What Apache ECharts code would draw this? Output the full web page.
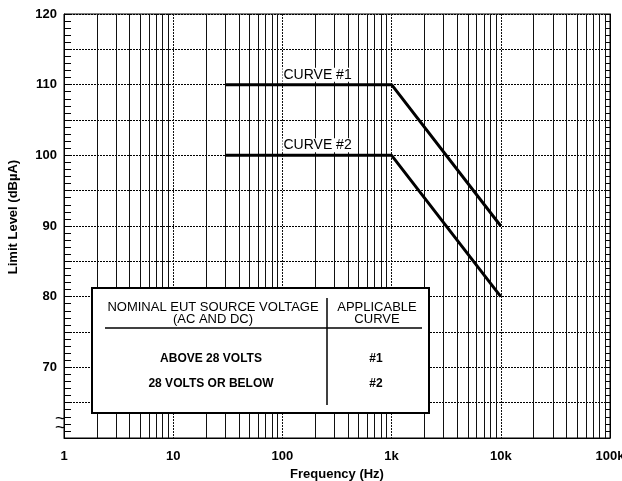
<!DOCTYPE html>
<html>
<head>
<meta charset="utf-8">
<script src="https://cdn.jsdelivr.net/npm/echarts@6/dist/echarts.min.js"></script>
<style>
  html, body { margin: 0; padding: 0; background: #fff; }
  #chart { width: 622px; height: 481px; }
</style>
</head>
<body>
<div id="chart"></div>
<script>
// limit curves (frequency in Hz, level in dBuA)
var freqs = [30, 1000, 10000];
var curve1 = [110, 110, 90];
var curve2 = [100, 100, 80];

// axis ticks
var xTicks = [1, 10, 100, 1000, 10000, 100000];
var xTickLabels = ['1', '10', '100', '1k', '10k', '100k'];
var yTickLabels = [70, 80, 90, 100, 110, 120];

// minor (2..9) log grid lines
var minorFreqs = [];
for (var d = 0; d < xTicks.length - 1; d++) {
    for (var m = 2; m <= 9; m++) {
        minorFreqs.push(m * xTicks[d]);
    }
}

// table text
var tableHead = ['NOMINAL EUT SOURCE VOLTAGE', '(AC AND DC)', 'APPLICABLE', 'CURVE'];
var tableRows = [['ABOVE 28 VOLTS', '#1'], ['28 VOLTS OR BELOW', '#2']];

var font = "'Liberation Sans', Arial, sans-serif";

var chartDom = document.getElementById('chart');
var myChart = echarts.init(chartDom, null, { renderer: 'canvas' });
var option;

function pairs(ys) {
    return freqs.map(function (f, i) { return [f, ys[i]]; });
}

function curveLabel(text, level) {
    return {
        symbol: 'rect',
        symbolSize: 1,
        itemStyle: { color: 'rgba(0,0,0,0)' },
        data: [{ coord: [210, level], value: 0 }],
        label: {
            show: true, position: 'inside', formatter: text, color: '#000',
            fontFamily: font, fontSize: 14, offset: [0, -10],
            backgroundColor: '#fff', padding: [0, 1]
        }
    };
}

option = {
    backgroundColor: '#fff',
    animation: false,
    grid: {
        left: 64, right: 12, top: 14, bottom: 43,
        show: true, borderColor: '#000', borderWidth: 1,
        outerBoundsMode: 'none'
    },
    xAxis: {
        type: 'log',
        logBase: 10,
        min: 1,
        max: 100000,
        name: 'Frequency (Hz)',
        nameLocation: 'middle',
        nameGap: 30,
        nameTextStyle: { color: '#000', fontFamily: font, fontSize: 13, fontWeight: 'bold' },
        axisLine: { lineStyle: { color: '#000', width: 1 } },
        axisTick: { show: false },
        axisLabel: {
            color: '#000', fontFamily: font, fontSize: 13, fontWeight: 'bold', margin: 12,
            formatter: function (v) {
                var i = xTicks.indexOf(Math.round(v));
                return i >= 0 ? xTickLabels[i] : '';
            }
        },
        splitLine: { show: true, lineStyle: { color: '#111', width: 1, type: [2, 1] } },
        minorTick: { show: false },
        minorSplitLine: { show: false }
    },
    yAxis: [
        {
            type: 'value',
            min: 60,
            max: 120,
            interval: 5,
            name: 'Limit Level (dBµA)',
            nameLocation: 'middle',
            nameGap: 44,
            nameTextStyle: { color: '#000', fontFamily: font, fontSize: 13, fontWeight: 'bold', padding: [0, 0, 0, 18] },
            axisLine: { show: true, lineStyle: { color: '#000', width: 1 } },
            axisTick: { show: true, inside: true, length: 7, lineStyle: { color: '#000' } },
            minorTick: { show: true, splitNumber: 5, length: 7, lineStyle: { color: '#000' } },
            axisLabel: {
                color: '#000', fontFamily: font, fontSize: 13, fontWeight: 'bold', margin: 7,
                formatter: function (v) {
                    return yTickLabels.indexOf(v) >= 0 ? String(v) : '';
                }
            },
            splitLine: { show: true, lineStyle: { color: '#000', width: 1, type: [2, 1] } }
        },
        {
            type: 'value',
            min: 60,
            max: 120,
            interval: 5,
            position: 'right',
            axisLine: { show: true, lineStyle: { color: '#000', width: 1 } },
            axisTick: { show: true, inside: true, length: 5, lineStyle: { color: '#000' } },
            minorTick: { show: true, splitNumber: 5, length: 5, lineStyle: { color: '#000' } },
            axisLabel: { show: false },
            splitLine: { show: false }
        }
    ],
    series: [
        {
            name: 'CURVE #1',
            type: 'line',
            data: pairs(curve1),
            showSymbol: false,
            lineStyle: { color: '#000', width: 3 },
            z: 3,
            markLine: {
                silent: true,
                symbol: 'none',
                label: { show: false },
                lineStyle: { color: '#111', width: 1, type: 'solid' },
                data: minorFreqs.map(function (f) { return { xAxis: f }; }),
                z: 1
            },
            markPoint: curveLabel('CURVE #1', 110)
        },
        {
            name: 'CURVE #2',
            type: 'line',
            data: pairs(curve2),
            showSymbol: false,
            lineStyle: { color: '#000', width: 3 },
            z: 3,
            markPoint: curveLabel('CURVE #2', 100)
        }
    ],
    graphic: [
        // axis break mark
        { type: 'text', zlevel: 1, left: 55, top: 410, style: { text: '~', font: '18px ' + font, fill: '#000' } },
        { type: 'text', zlevel: 1, left: 55, top: 419, style: { text: '~', font: '18px ' + font, fill: '#000' } },
        // table
        { type: 'rect', zlevel: 1, shape: { x: 92, y: 288, width: 337, height: 125 }, style: { fill: '#fff', stroke: '#000', lineWidth: 2 } },
        { type: 'line', zlevel: 1, shape: { x1: 105, y1: 328, x2: 422, y2: 328 }, style: { stroke: '#000', lineWidth: 1.5 } },
        { type: 'line', zlevel: 1, shape: { x1: 327, y1: 298, x2: 327, y2: 405 }, style: { stroke: '#000', lineWidth: 1.5 } },
        { type: 'text', zlevel: 1, x: 213, y: 307, style: { text: tableHead[0], font: '13px ' + font, fill: '#000', align: 'center', verticalAlign: 'middle' } },
        { type: 'text', zlevel: 1, x: 213, y: 319, style: { text: tableHead[1], font: '13px ' + font, fill: '#000', align: 'center', verticalAlign: 'middle' } },
        { type: 'text', zlevel: 1, x: 377, y: 307, style: { text: tableHead[2], font: '13px ' + font, fill: '#000', align: 'center', verticalAlign: 'middle' } },
        { type: 'text', zlevel: 1, x: 377, y: 319, style: { text: tableHead[3], font: '13px ' + font, fill: '#000', align: 'center', verticalAlign: 'middle' } },
        { type: 'text', zlevel: 1, x: 211, y: 359, style: { text: tableRows[0][0], font: 'bold 12px ' + font, fill: '#000', align: 'center', verticalAlign: 'middle' } },
        { type: 'text', zlevel: 1, x: 376, y: 359, style: { text: tableRows[0][1], font: 'bold 12px ' + font, fill: '#000', align: 'center', verticalAlign: 'middle' } },
        { type: 'text', zlevel: 1, x: 211, y: 384, style: { text: tableRows[1][0], font: 'bold 12px ' + font, fill: '#000', align: 'center', verticalAlign: 'middle' } },
        { type: 'text', zlevel: 1, x: 376, y: 384, style: { text: tableRows[1][1], font: 'bold 12px ' + font, fill: '#000', align: 'center', verticalAlign: 'middle' } }
    ]
};

option && myChart.setOption(option);
</script>
</body>
</html>
